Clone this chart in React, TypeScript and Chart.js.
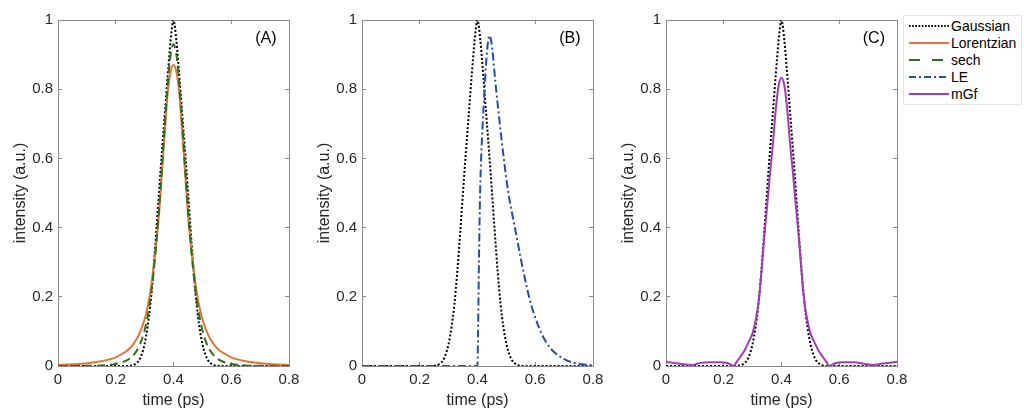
import React, { useEffect, useRef } from 'react';
import { Chart, registerables } from 'chart.js';

Chart.register(...registerables);

// ---------- data ----------
const xTicks = [0, 0.2, 0.4, 0.6, 0.8];
const xTickLabels = ['0', '0.2', '0.4', '0.6', '0.8'];
const yTicks = [0, 0.2, 0.4, 0.6, 0.8, 1];
const yTickLabels = ['0', '0.2', '0.4', '0.6', '0.8', '1'];

const gaussX = [0, 0.2, 0.24, 0.25, 0.26, 0.27, 0.28, 0.29, 0.3, 0.31, 0.32, 0.33, 0.34, 0.35, 0.36, 0.37, 0.38, 0.39, 0.4, 0.41, 0.42, 0.43, 0.44, 0.45, 0.46, 0.47, 0.48, 0.49, 0.5, 0.51, 0.52, 0.53, 0.54, 0.55, 0.56, 0.6, 0.8];
const gaussY = [0, 0, 0, 0.0008, 0.0025, 0.007, 0.016, 0.034, 0.064, 0.112, 0.178, 0.272, 0.385, 0.505, 0.62, 0.73, 0.84, 0.94, 1, 0.94, 0.84, 0.73, 0.62, 0.505, 0.385, 0.272, 0.178, 0.112, 0.064, 0.034, 0.016, 0.007, 0.0025, 0.0008, 0, 0, 0];

const lorX = [0, 0.05, 0.1, 0.15, 0.2, 0.22, 0.24, 0.26, 0.28, 0.3, 0.31, 0.32, 0.33, 0.34, 0.35, 0.36, 0.37, 0.38, 0.39, 0.4, 0.41, 0.42, 0.43, 0.44, 0.45, 0.46, 0.47, 0.48, 0.49, 0.5, 0.52, 0.54, 0.56, 0.58, 0.6, 0.65, 0.7, 0.75, 0.8];
const lorY = [0.003, 0.005, 0.008, 0.014, 0.025, 0.034, 0.045, 0.062, 0.09, 0.135, 0.17, 0.215, 0.28, 0.35, 0.44, 0.56, 0.68, 0.79, 0.85, 0.87, 0.85, 0.79, 0.68, 0.56, 0.44, 0.35, 0.28, 0.215, 0.17, 0.135, 0.09, 0.062, 0.045, 0.034, 0.025, 0.014, 0.008, 0.005, 0.003];

const sechX = [0, 0.1, 0.15, 0.2, 0.22, 0.24, 0.26, 0.28, 0.3, 0.31, 0.32, 0.33, 0.34, 0.35, 0.36, 0.37, 0.38, 0.39, 0.4, 0.41, 0.42, 0.43, 0.44, 0.45, 0.46, 0.47, 0.48, 0.49, 0.5, 0.52, 0.54, 0.56, 0.58, 0.6, 0.65, 0.7, 0.8];
const sechY = [0, 0.0004, 0.0015, 0.006, 0.01, 0.017, 0.03, 0.055, 0.103, 0.142, 0.193, 0.262, 0.35, 0.455, 0.575, 0.7, 0.815, 0.9, 0.93, 0.9, 0.815, 0.7, 0.575, 0.455, 0.35, 0.262, 0.193, 0.142, 0.103, 0.055, 0.03, 0.017, 0.01, 0.006, 0.0015, 0.0004, 0];

const leX = [0, 0.399, 0.4, 0.402, 0.405, 0.409, 0.413, 0.418, 0.424, 0.431, 0.4415, 0.451, 0.462, 0.474, 0.491, 0.507, 0.52, 0.535, 0.55, 0.565, 0.58, 0.595, 0.61, 0.63, 0.65, 0.67, 0.7, 0.73, 0.76, 0.8];
const leY = [0, 0, 0, 0.1, 0.3, 0.5, 0.61, 0.7, 0.79, 0.89, 0.955, 0.918, 0.82, 0.725, 0.6, 0.5, 0.44, 0.375, 0.31, 0.25, 0.195, 0.152, 0.117, 0.08, 0.054, 0.037, 0.02, 0.01, 0.005, 0.002];

const mgfX = [0, 0.03, 0.06, 0.09, 0.12, 0.15, 0.19, 0.215, 0.236, 0.24, 0.25, 0.26, 0.27, 0.28, 0.29, 0.3, 0.31, 0.32, 0.33, 0.34, 0.35, 0.36, 0.37, 0.38, 0.39, 0.4, 0.41, 0.42, 0.43, 0.44, 0.45, 0.46, 0.47, 0.48, 0.49, 0.5, 0.51, 0.52, 0.53, 0.54, 0.55, 0.56, 0.564, 0.585, 0.61, 0.65, 0.69, 0.714, 0.75, 0.8];
const mgfY = [0.012, 0.009, 0.005, 0.003, 0.009, 0.011, 0.011, 0.008, 0, 0.006, 0.018, 0.03, 0.042, 0.058, 0.076, 0.095, 0.13, 0.18, 0.265, 0.37, 0.46, 0.555, 0.64, 0.74, 0.81, 0.833, 0.81, 0.74, 0.64, 0.555, 0.46, 0.37, 0.265, 0.18, 0.13, 0.095, 0.076, 0.058, 0.042, 0.03, 0.018, 0.006, 0, 0.008, 0.011, 0.011, 0.006, 0.003, 0.007, 0.012];

const seriesNames = ['Gaussian', 'Lorentzian', 'sech', 'LE', 'mGf'];
const panelLabels = ['(A)', '(B)', '(C)'];

// ---------- styles ----------
const FONT = '"Liberation Sans", Arial, Helvetica, sans-serif';
const TEXT = '#262626';
const AXIS_COLOR = '#8a8a8a';
const COLORS: Record<string, string> = {
  Gaussian: '#000000',
  Lorentzian: '#dc7633',
  sech: '#2f6d1f',
  LE: '#2350a6',
  mGf: '#a23bb5',
};
const DASH: Record<string, number[]> = {
  Gaussian: [2, 2],
  Lorentzian: [],
  sech: [8, 5],
  LE: [8, 3, 2, 3],
  mGf: [],
};
const SVG_DASH: Record<string, string> = {
  Gaussian: '1.6 1.6',
  Lorentzian: '',
  sech: '11 12',
  LE: '7 3 2 3',
  mGf: '',
};

const PLOT_W = 231;
const AXIS_W = 58;
const RIGHT_PAD = 24;
const CANVAS_W = AXIS_W + PLOT_W + RIGHT_PAD;
const CANVAS_H = 419;
const TICK_IN = -4;
const panelLefts = [0, 304, 608];

function makeDataset(name: string, xs: number[], ys: number[]) {
  return {
    label: name,
    data: xs.map((x, i) => ({ x, y: ys[i] })),
    borderColor: COLORS[name],
    backgroundColor: COLORS[name],
    borderWidth: 2,
    borderDash: DASH[name],
    borderCapStyle: 'butt' as const,
    pointRadius: 0,
    fill: false,
    cubicInterpolationMode: 'monotone' as const,
    xAxisID: 'x',
    yAxisID: 'y',
  };
}

const labelPlugin = {
  id: 'panelLabel',
  afterDatasetsDraw(chart: any, _args: any, opts: any) {
    const { ctx, scales } = chart;
    ctx.save();
    ctx.fillStyle = '#000';
    ctx.font = `16px ${FONT}`;
    ctx.textAlign = 'center';
    ctx.textBaseline = 'middle';
    ctx.fillText(opts.label, scales.x.getPixelForValue(0.72), scales.y.getPixelForValue(0.945));
    ctx.restore();
  },
};

const gridInward = {
  display: true,
  drawOnChartArea: false,
  drawTicks: true,
  tickLength: TICK_IN,
  color: AXIS_COLOR,
  lineWidth: 1,
};
const borderOn = { display: true, color: AXIS_COLOR, width: 1 };

function Panel({ left, datasets, label }: { left: number; datasets: any[]; label: string }) {
  const ref = useRef<HTMLCanvasElement>(null);
  useEffect(() => {
    const setX = (s: any) => {
      s.ticks = xTicks.map((v) => ({ value: v }));
    };
    const setY = (s: any) => {
      s.ticks = yTicks.map((v) => ({ value: v }));
    };
    const chart = new Chart(ref.current as HTMLCanvasElement, {
      type: 'line',
      data: { datasets },
      options: {
        responsive: false,
        animation: false,
        devicePixelRatio: 1,
        layout: { padding: { top: 20, right: RIGHT_PAD, left: 0, bottom: 0 } },
        plugins: {
          legend: { display: false },
          tooltip: { enabled: false },
          // @ts-ignore
          panelLabel: { label },
        },
        scales: {
          x: {
            type: 'linear',
            position: 'bottom',
            min: 0,
            max: 0.8,
            afterBuildTicks: setX,
            afterFit: (s: any) => {
              s.height = 53;
            },
            grid: gridInward,
            border: borderOn,
            ticks: {
              padding: 5 - TICK_IN,
              color: TEXT,
              autoSkip: false,
              maxRotation: 0,
              font: { size: 15, family: FONT },
              callback: (v: any) => xTickLabels[xTicks.indexOf(Number(v))] ?? '',
            },
            title: {
              display: true,
              text: 'time (ps)',
              color: TEXT,
              font: { size: 16, family: FONT },
              padding: { top: 0, bottom: 9 },
            },
          },
          x2: {
            type: 'linear',
            position: 'top',
            min: 0,
            max: 0.8,
            afterBuildTicks: setX,
            afterFit: (s: any) => {
              s.height = 0;
            },
            grid: gridInward,
            border: borderOn,
            ticks: { display: false },
          },
          y: {
            type: 'linear',
            position: 'left',
            min: 0,
            max: 1,
            afterBuildTicks: setY,
            afterFit: (s: any) => {
              s.width = AXIS_W;
            },
            grid: gridInward,
            border: borderOn,
            ticks: {
              padding: 5 - TICK_IN,
              color: TEXT,
              autoSkip: false,
              font: { size: 15, family: FONT },
              callback: (v: any) => yTickLabels[yTicks.indexOf(Number(v))] ?? '',
            },
            title: {
              display: true,
              text: 'intensity (a.u.)',
              color: TEXT,
              font: { size: 16, family: FONT },
              padding: { top: 11, bottom: 0 },
            },
          },
          y2: {
            type: 'linear',
            position: 'right',
            min: 0,
            max: 1,
            afterBuildTicks: setY,
            afterFit: (s: any) => {
              s.width = 0;
            },
            grid: gridInward,
            border: borderOn,
            ticks: { display: false },
          },
        },
      } as any,
      plugins: [labelPlugin],
    });
    return () => chart.destroy();
  }, []);
  return (
    <canvas
      ref={ref}
      width={CANVAS_W}
      height={CANVAS_H}
      style={{ position: 'absolute', left, top: 0, width: CANVAS_W, height: CANVAS_H }}
    />
  );
}

function Legend() {
  const rowsY = [25.7, 43.3, 60.3, 76.9, 93.5];
  return (
    <>
      <div
        style={{
          position: 'absolute',
          left: 903,
          top: 15,
          width: 117,
          height: 88,
          border: '1px solid #e4e4e4',
          background: '#fff',
        }}
      />
      {seriesNames.map((name, i) => (
        <React.Fragment key={name}>
          <svg
            width={42}
            height={6}
            style={{ position: 'absolute', left: 908, top: rowsY[i] - 3 }}
          >
            <line
              x1={1}
              y1={3}
              x2={41}
              y2={3}
              stroke={COLORS[name]}
              strokeWidth={2}
              strokeDasharray={SVG_DASH[name] || undefined}
            />
          </svg>
          <span
            style={{
              position: 'absolute',
              left: 951,
              top: rowsY[i] - 8,
              height: 16,
              lineHeight: '16px',
              fontSize: 14,
              fontFamily: FONT,
              color: '#000',
              whiteSpace: 'nowrap',
            }}
          >
            {name}
          </span>
        </React.Fragment>
      ))}
    </>
  );
}

export default function App() {
  const panelA = [
    makeDataset('sech', sechX, sechY),
    makeDataset('Lorentzian', lorX, lorY),
    makeDataset('Gaussian', gaussX, gaussY),
  ];
  const panelB = [makeDataset('LE', leX, leY), makeDataset('Gaussian', gaussX, gaussY)];
  const panelC = [makeDataset('mGf', mgfX, mgfY), makeDataset('Gaussian', gaussX, gaussY)];
  const sets = [panelA, panelB, panelC];
  return (
    <div
      style={{
        position: 'absolute',
        left: 0,
        top: 0,
        width: 1024,
        height: 419,
        background: '#fff',
        overflow: 'hidden',
      }}
    >
      {sets.map((ds, i) => (
        <Panel key={i} left={panelLefts[i]} datasets={ds} label={panelLabels[i]} />
      ))}
      <Legend />
    </div>
  );
}
